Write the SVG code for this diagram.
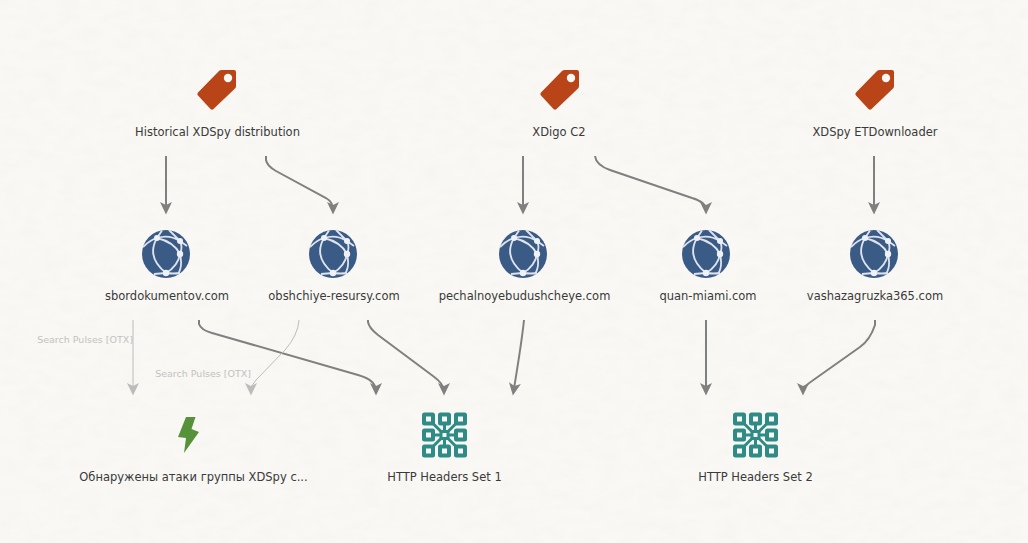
<svg xmlns="http://www.w3.org/2000/svg" width="1028" height="543" viewBox="0 0 1028 543">
<style>
text{font-family:"DejaVu Sans","Liberation Sans",sans-serif;font-size:11.5px;fill:#3a3a3a;text-anchor:middle}
text.edge{font-size:9.5px;fill:#c2c2c2;text-anchor:end}
.d{fill:none;stroke:#808080;stroke-width:2;marker-end:url(#ad)}
.l{fill:none;stroke:#bcbcbc;stroke-width:1;marker-end:url(#al)}
</style>
<defs>
<marker id="ad" markerUnits="userSpaceOnUse" markerWidth="13" markerHeight="13" viewBox="0 0 13 13" refX="8" refY="6.500" orient="auto"><path d="M0,0.500 L12.500,6.500 L0,12.500 L3,6.500 Z" fill="#808080"/></marker>
<marker id="al" markerUnits="userSpaceOnUse" markerWidth="13" markerHeight="13" viewBox="0 0 13 13" refX="8" refY="6.500" orient="auto"><path d="M0,0.500 L12.500,6.500 L0,12.500 L3,6.500 Z" fill="#bcbcbc"/></marker>
<filter id="paper" x="0" y="0" width="100%" height="100%"><feTurbulence type="fractalNoise" baseFrequency="0.05 0.1" numOctaves="4" seed="4"/><feColorMatrix values="0 0 0 0 0.6 0 0 0 0 0.58 0 0 0 0 0.52 0.12 0 0 0 -0.045"/></filter>
<g id="tag"><path d="M-1,-19 Q0,-20 2,-20 L14,-20 Q16,-20 16,-18 L16,-4 Q16,-2.500 15,-1.500 L-6.500,19 Q-8,20.500 -9.500,19 L-22,5.500 Q-23.500,4 -22,2.500 Z" fill="#b84417"/><circle cx="8" cy="-12" r="4.200" fill="#f9f8f4"/></g>
<g id="globe"><circle r="24" fill="#3b5b87"/><g fill="none" stroke="#dfe4ec" stroke-width="1.800"><path d="M-9,-16 Q-20,3 0,19 M-9,-16 Q8,-12 14,0 M14,0 Q12,12 0,19 M-9,-16 Q3,-20 14,-13 M14,-13 Q17,-7 14,0 M-23,-7 Q-16,-14 -9,-16 M-9,-16 L-4,-23.500 M14,-13 L3,-24 M14,-13 L21,-8 M14,0 Q17,12 12,20 M0,19 L-12,20 M0,19 Q8,20 14,19"/></g><g fill="#eef1f5"><circle cx="-9" cy="-16" r="3"/><circle cx="14" cy="-13" r="3"/><circle cx="14" cy="0" r="3.200"/><circle cx="0" cy="19" r="3.200"/></g></g>
<g id="chip"><g fill="none" stroke="#2f8b85" stroke-width="3"><path d="M-16,-16 L16,16 M16,-16 L-16,16 M-10,0 H10 M0,-10 V10"/></g><g fill="#2f8b85"><rect x="-22.500" y="-22.500" width="13" height="13" rx="2.500"/><rect x="-6.500" y="-22.500" width="13" height="13" rx="2.500"/><rect x="9.500" y="-22.500" width="13" height="13" rx="2.500"/><rect x="-22.500" y="-6.500" width="13" height="13" rx="2.500"/><rect x="9.500" y="-6.500" width="13" height="13" rx="2.500"/><rect x="-22.500" y="9.500" width="13" height="13" rx="2.500"/><rect x="-6.500" y="9.500" width="13" height="13" rx="2.500"/><rect x="9.500" y="9.500" width="13" height="13" rx="2.500"/><rect x="-5" y="-5" width="10" height="10" rx="2"/></g><g fill="#f9f8f4"><rect x="-18.500" y="-18.500" width="5" height="5"/><rect x="-2.500" y="-18.500" width="5" height="5"/><rect x="13.500" y="-18.500" width="5" height="5"/><rect x="-18.500" y="-2.500" width="5" height="5"/><rect x="13.500" y="-2.500" width="5" height="5"/><rect x="-18.500" y="13.500" width="5" height="5"/><rect x="-2.500" y="13.500" width="5" height="5"/><rect x="13.500" y="13.500" width="5" height="5"/><rect x="-2" y="-2" width="4" height="4"/></g></g>
</defs>
<rect width="1028" height="543" fill="#f9f8f4"/>
<rect width="1028" height="543" filter="url(#paper)"/>
<g id="connectors">
<path class="d" d="M166,156 V210"/>
<path class="d" d="M266,156 V160 Q267,166 276,171 L326,198 Q333,202 333,210"/>
<path class="d" d="M523,156 V210"/>
<path class="d" d="M595,156 Q596,165 610,170 L692,198 Q706,202 706,210"/>
<path class="d" d="M874,156 V210"/>
<path class="d" d="M199,320 V324 Q201,330 212,333 L358,375 Q376,380 376,391"/>
<path class="d" d="M368,320 V322 Q369,328 378,335 L433,376 Q444,384 444,391"/>
<path class="d" d="M524,320 Q522,340 513.600,391"/>
<path class="d" d="M706,320 V391"/>
<path class="d" d="M875,320 V325 Q870,340 860,347 L812,381 Q803,387 803,391"/>
<path class="l" d="M133,320 V391"/>
<path class="l" d="M299,320 Q298,335 285,350 L256,380 Q251,385 251,391"/>
<text class="edge" x="133" y="343">Search Pulses [OTX]</text>
<text class="edge" x="251" y="377">Search Pulses [OTX]</text>
</g>
<g id="tag-historical"><use href="#tag" x="220" y="90"/><text x="217.500" y="136">Historical XDSpy distribution</text></g>
<g id="tag-xdigo"><use href="#tag" x="563" y="90"/><text x="559" y="136">XDigo C2</text></g>
<g id="tag-etdownloader"><use href="#tag" x="878" y="90"/><text x="875" y="136">XDSpy ETDownloader</text></g>
<g id="domain-sbor"><use href="#globe" x="166" y="254"/><text x="167" y="300">sbordokumentov.com</text></g>
<g id="domain-obsh"><use href="#globe" x="333" y="254"/><text x="334" y="300">obshchiye-resursy.com</text></g>
<g id="domain-pech"><use href="#globe" x="523" y="254"/><text x="524.500" y="300">pechalnoyebudushcheye.com</text></g>
<g id="domain-quan"><use href="#globe" x="706" y="254"/><text x="708" y="300">quan-miami.com</text></g>
<g id="domain-vasha"><use href="#globe" x="874" y="254"/><text x="875" y="300">vashazagruzka365.com</text></g>
<g id="pulse"><polygon points="186,417 195.500,417 191.500,429 199,432 184,453 186,438 178,437" fill="#55923a"/><text x="193.500" y="481">Обнаружены атаки группы XDSpy с...</text></g>
<g id="headers-1"><use href="#chip" x="444.500" y="435"/><text x="444.500" y="481">HTTP Headers Set 1</text></g>
<g id="headers-2"><use href="#chip" x="755.500" y="435"/><text x="755.500" y="481">HTTP Headers Set 2</text></g>
</svg>
